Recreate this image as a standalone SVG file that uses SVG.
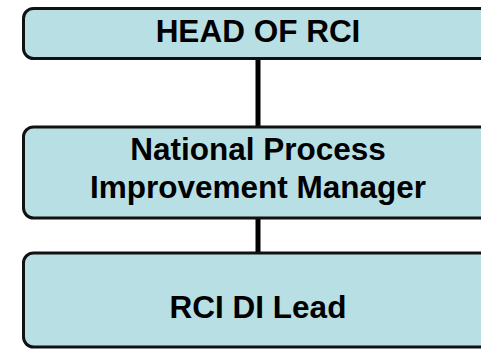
<svg xmlns="http://www.w3.org/2000/svg" width="481" height="349" viewBox="0 0 481 349">
<style>
.box{fill:#B8DFE3;stroke:#111;stroke-width:3}
.lbl{font-family:"Liberation Sans",Arial,sans-serif;font-weight:bold;font-size:31.5px;fill:#000;text-anchor:middle}
.conn{stroke:#000;stroke-width:5;fill:none}
</style>
<rect width="481" height="349" fill="#fff"/>
<g id="connectors">
<line class="conn" x1="258" y1="59" x2="258" y2="127"/>
<line class="conn" x1="258" y1="218" x2="258" y2="253"/>
</g>
<g id="head">
<rect class="box" x="23.5" y="8.5" width="469" height="50" rx="10"/>
<text class="lbl" x="258" y="42">HEAD OF RCI</text>
</g>
<g id="npim">
<rect class="box" x="23.5" y="127" width="469" height="91" rx="10"/>
<text class="lbl" x="258" y="160">National Process</text>
<text class="lbl" x="258" y="198">Improvement Manager</text>
</g>
<g id="lead">
<rect class="box" x="23.5" y="253" width="469" height="94" rx="10"/>
<text class="lbl" x="258" y="318">RCI DI Lead</text>
</g>
</svg>
